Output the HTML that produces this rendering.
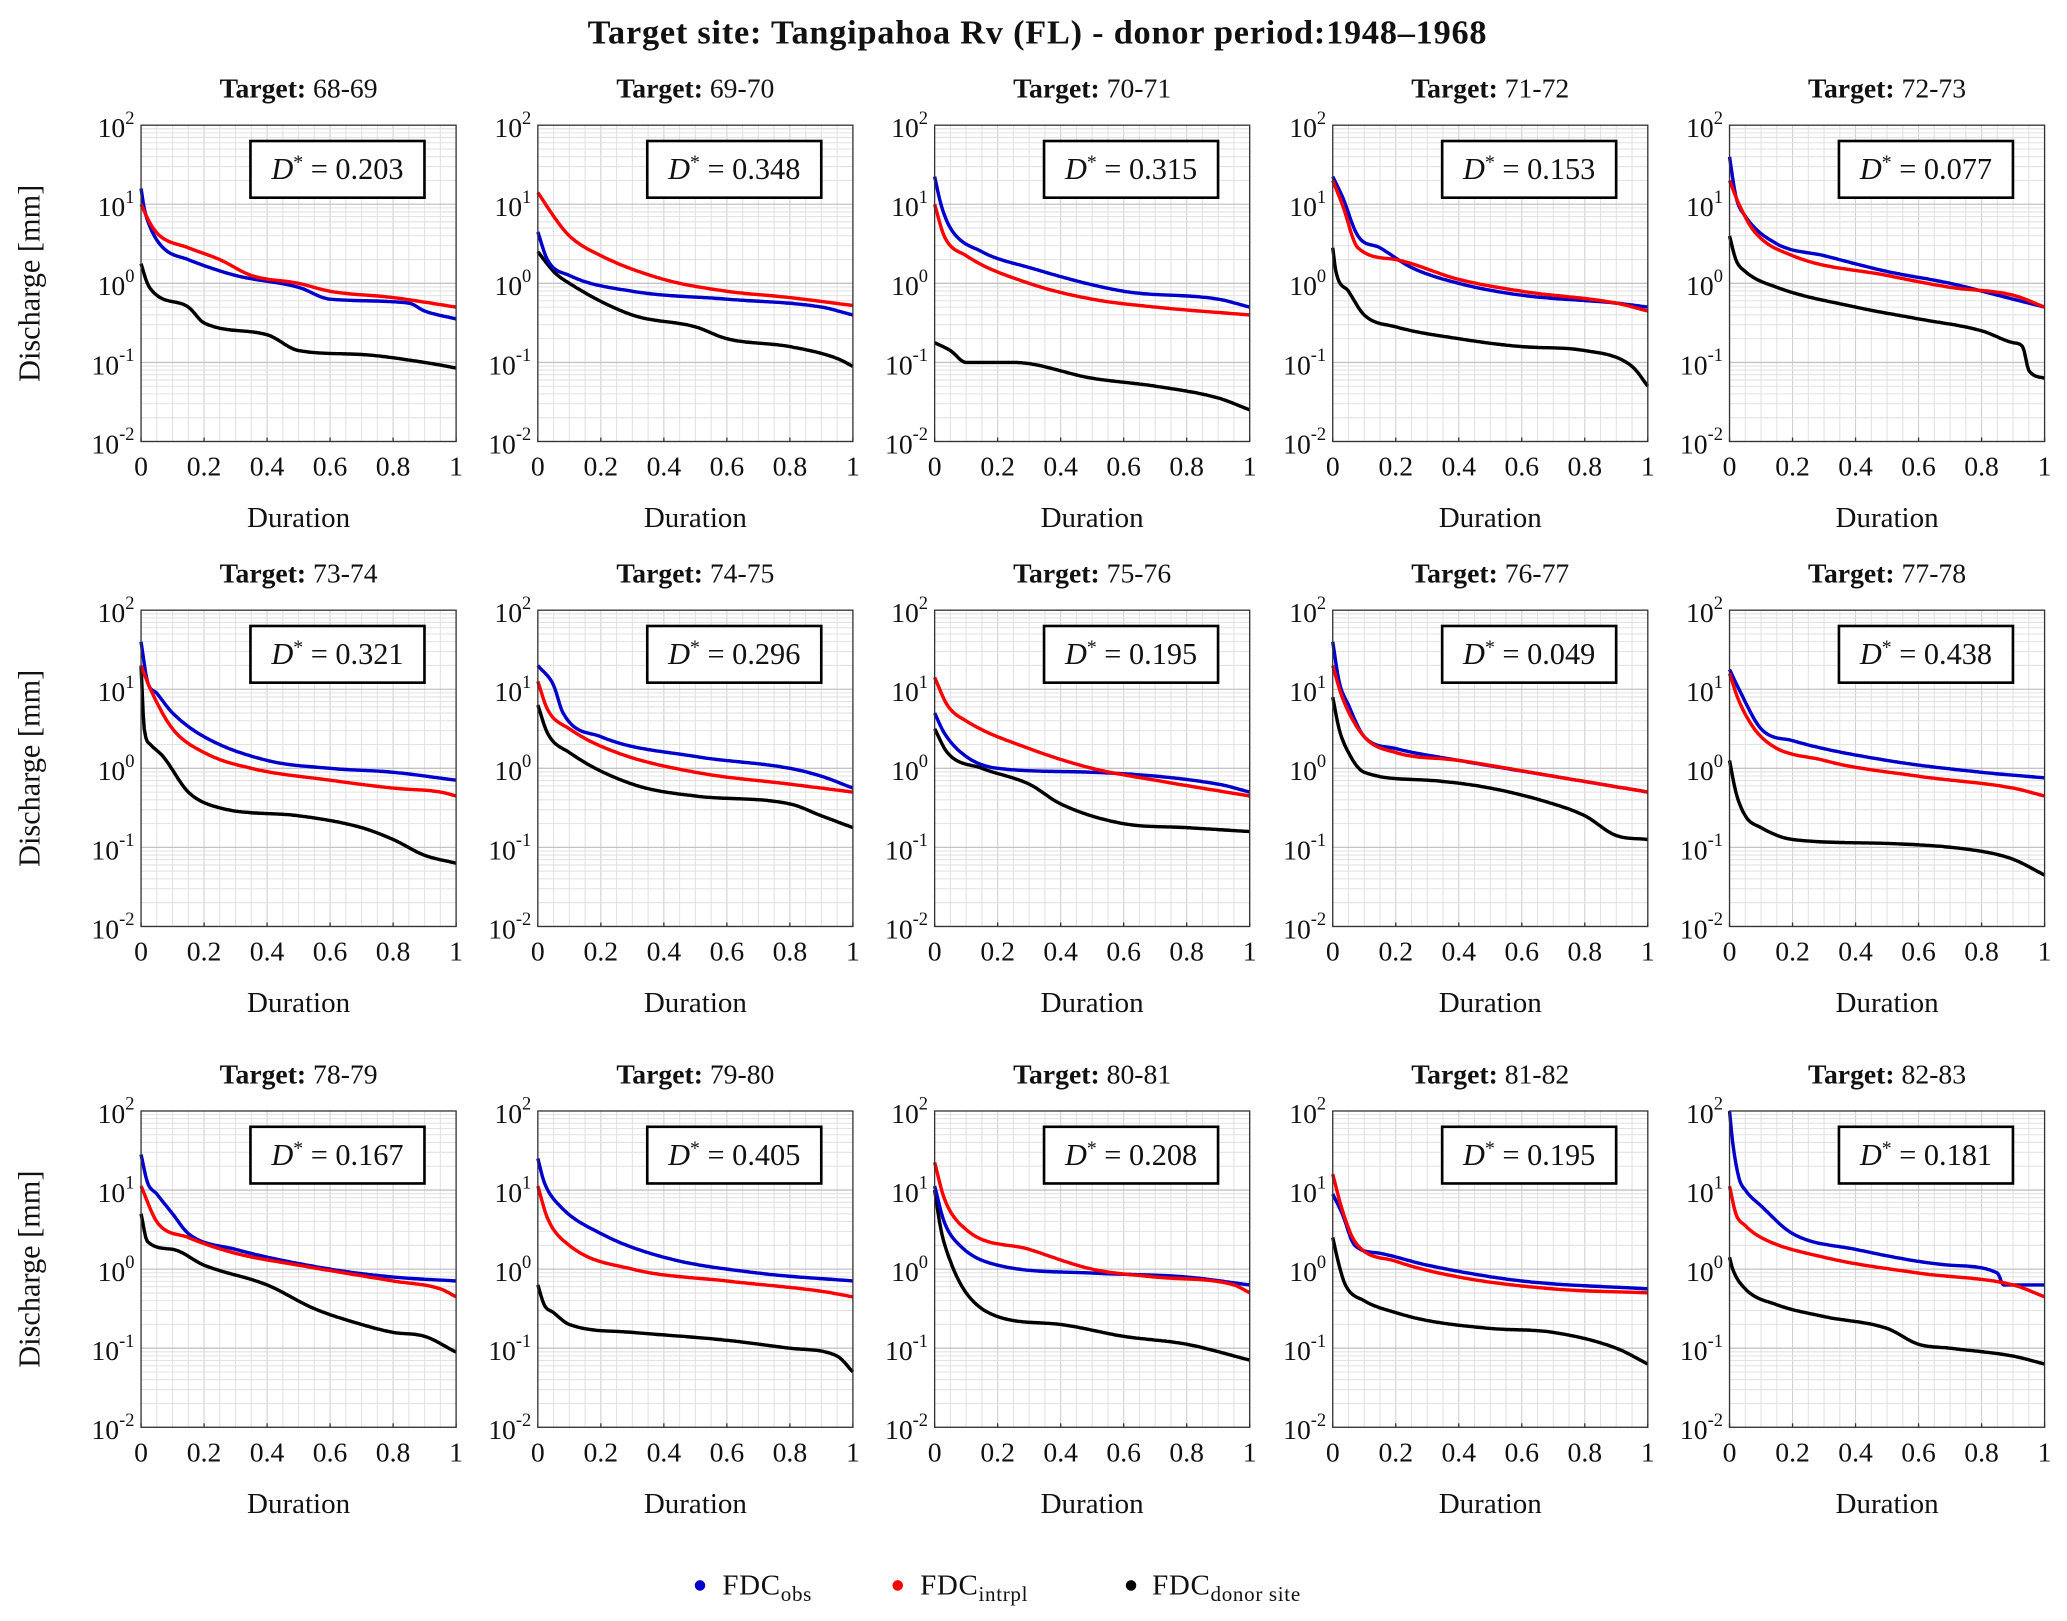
<!DOCTYPE html>
<html><head><meta charset="utf-8"><style>
html,body{margin:0;padding:0;background:#fff}
svg{display:block}
text{font-family:"Liberation Serif","DejaVu Serif",serif;fill:#111}
</style></head><body>
<svg id="s" xmlns="http://www.w3.org/2000/svg" width="2067" height="1621" viewBox="0 0 1568 1230" preserveAspectRatio="none">
<rect width="1568" height="1230" fill="#fff"/>
<text x="787" y="33" text-anchor="middle" font-size="26" font-weight="bold" letter-spacing="0.6">Target site:  Tangipahoa Rv (FL) - donor period:1948–1968</text>
<g font-size="22" letter-spacing="0.5">
<circle cx="531" cy="1203" r="4" fill="#0000cc"/><text x="548" y="1210">FDC<tspan font-size="16" dy="5">obs</tspan></text>
<circle cx="681" cy="1203" r="4" fill="#ff0000"/><text x="698" y="1210">FDC<tspan font-size="16" dy="5">intrpl</tspan></text>
<circle cx="858" cy="1203" r="4" fill="#000"/><text x="874" y="1210">FDC<tspan font-size="16" dy="5">donor site</tspan></text>
</g>
</svg>
<script>
const P=[
["68-69","0.203",[[0,1.2],[0.01,0.95],[0.03,0.7],[0.07,0.45],[0.15,0.3],[0.3,0.1],[0.5,-0.05],[0.6,-0.2],[0.85,-0.25],[0.9,-0.35],[1,-0.45]],[[0,1],[0.03,0.75],[0.06,0.6],[0.15,0.45],[0.25,0.3],[0.35,0.1],[0.5,0],[0.6,-0.1],[0.8,-0.18],[1,-0.3]],[[0,0.25],[0.02,0],[0.05,-0.15],[0.15,-0.3],[0.2,-0.5],[0.4,-0.65],[0.5,-0.85],[0.7,-0.9],[0.9,-1],[1,-1.07]]],
["69-70","0.348",[[0,0.65],[0.03,0.3],[0.1,0.1],[0.3,-0.1],[0.6,-0.2],[0.9,-0.3],[1,-0.4]],[[0,1.15],[0.05,0.85],[0.1,0.6],[0.2,0.35],[0.4,0.05],[0.6,-0.1],[0.8,-0.18],[1,-0.28]],[[0,0.4],[0.05,0.15],[0.1,0],[0.3,-0.4],[0.5,-0.55],[0.6,-0.7],[0.8,-0.8],[0.95,-0.95],[1,-1.05]]],
["70-71","0.315",[[0,1.35],[0.02,1],[0.05,0.7],[0.15,0.4],[0.3,0.2],[0.6,-0.1],[0.9,-0.2],[1,-0.3]],[[0,1],[0.03,0.6],[0.1,0.35],[0.3,0],[0.5,-0.2],[0.7,-0.3],[1,-0.4]],[[0,-0.75],[0.05,-0.85],[0.1,-1],[0.25,-1],[0.5,-1.2],[0.7,-1.3],[0.9,-1.45],[1,-1.6]]],
["71-72","0.153",[[0,1.35],[0.03,1.1],[0.08,0.6],[0.15,0.45],[0.25,0.2],[0.4,0],[0.6,-0.15],[0.9,-0.25],[1,-0.3]],[[0,1.3],[0.03,1],[0.08,0.45],[0.2,0.3],[0.4,0.05],[0.6,-0.1],[0.9,-0.25],[1,-0.35]],[[0,0.45],[0.01,0.15],[0.05,-0.1],[0.1,-0.4],[0.2,-0.55],[0.4,-0.7],[0.6,-0.8],[0.8,-0.85],[0.95,-1.05],[1,-1.3]]],
["72-73","0.077",[[0,1.6],[0.02,1.1],[0.05,0.85],[0.15,0.5],[0.3,0.35],[0.5,0.15],[0.7,0],[0.9,-0.2],[1,-0.3]],[[0,1.3],[0.03,1],[0.08,0.65],[0.2,0.35],[0.5,0.1],[0.7,-0.05],[0.9,-0.15],[1,-0.3]],[[0,0.6],[0.02,0.3],[0.05,0.15],[0.15,-0.05],[0.4,-0.3],[0.6,-0.45],[0.8,-0.6],[0.9,-0.75],[0.93,-0.8],[0.95,-1.1],[1,-1.2]]],
["73-74","0.321",[[0,1.6],[0.02,1.1],[0.05,0.95],[0.1,0.7],[0.2,0.4],[0.4,0.1],[0.6,0],[0.8,-0.05],[1,-0.15]],[[0,1.3],[0.03,1],[0.1,0.5],[0.2,0.2],[0.35,0],[0.6,-0.15],[0.8,-0.25],[0.95,-0.3],[1,-0.35]],[[0,1.3],[0.01,0.5],[0.03,0.3],[0.07,0.15],[0.15,-0.3],[0.25,-0.5],[0.5,-0.6],[0.7,-0.75],[0.8,-0.9],[0.9,-1.1],[1,-1.2]]],
["74-75","0.296",[[0,1.3],[0.05,1.05],[0.08,0.7],[0.2,0.4],[0.5,0.15],[0.8,0],[0.9,-0.1],[1,-0.25]],[[0,1.1],[0.03,0.75],[0.1,0.5],[0.25,0.2],[0.5,-0.05],[0.8,-0.2],[1,-0.3]],[[0,0.8],[0.03,0.45],[0.1,0.2],[0.3,-0.2],[0.5,-0.35],[0.8,-0.45],[0.9,-0.6],[1,-0.75]]],
["75-76","0.195",[[0,0.7],[0.03,0.45],[0.1,0.15],[0.2,0],[0.5,-0.05],[0.9,-0.2],[1,-0.3]],[[0,1.15],[0.04,0.8],[0.1,0.6],[0.3,0.25],[0.5,0],[0.7,-0.15],[1,-0.35]],[[0,0.5],[0.04,0.2],[0.15,0],[0.3,-0.2],[0.4,-0.45],[0.6,-0.7],[0.8,-0.75],[1,-0.8]]],
["76-77","0.049",[[0,1.6],[0.02,1.1],[0.05,0.8],[0.1,0.4],[0.2,0.25],[0.4,0.1],[0.7,-0.1],[1,-0.3]],[[0,1.3],[0.03,0.9],[0.1,0.4],[0.2,0.2],[0.4,0.1],[0.7,-0.1],[1,-0.3]],[[0,0.9],[0.02,0.5],[0.05,0.2],[0.1,-0.05],[0.3,-0.15],[0.5,-0.25],[0.7,-0.45],[0.8,-0.6],[0.9,-0.85],[1,-0.9]]],
["77-78","0.438",[[0,1.25],[0.03,1],[0.1,0.5],[0.2,0.35],[0.5,0.1],[0.8,-0.05],[1,-0.12]],[[0,1.2],[0.03,0.85],[0.1,0.4],[0.3,0.1],[0.6,-0.1],[0.9,-0.25],[1,-0.35]],[[0,0.1],[0.02,-0.3],[0.05,-0.6],[0.1,-0.75],[0.2,-0.9],[0.5,-0.95],[0.8,-1.05],[0.9,-1.15],[1,-1.35]]],
["78-79","0.167",[[0,1.45],[0.02,1.1],[0.05,0.95],[0.1,0.7],[0.15,0.45],[0.3,0.25],[0.6,0],[0.8,-0.1],[1,-0.15]],[[0,1.05],[0.05,0.6],[0.15,0.4],[0.3,0.2],[0.5,0.05],[0.8,-0.15],[0.95,-0.25],[1,-0.35]],[[0,0.7],[0.02,0.35],[0.1,0.25],[0.2,0.05],[0.4,-0.2],[0.55,-0.5],[0.7,-0.7],[0.8,-0.8],[0.9,-0.85],[1,-1.05]]],
["79-80","0.405",[[0,1.4],[0.02,1.1],[0.07,0.8],[0.2,0.45],[0.4,0.15],[0.7,-0.05],[1,-0.15]],[[0,1.05],[0.03,0.65],[0.1,0.3],[0.3,0],[0.6,-0.15],[0.9,-0.28],[1,-0.35]],[[0,-0.2],[0.02,-0.45],[0.05,-0.55],[0.1,-0.7],[0.3,-0.8],[0.6,-0.9],[0.8,-1],[0.95,-1.1],[1,-1.3]]],
["80-81","0.208",[[0,1.05],[0.03,0.6],[0.08,0.3],[0.2,0.05],[0.5,-0.05],[0.8,-0.1],[1,-0.2]],[[0,1.35],[0.03,0.9],[0.1,0.5],[0.3,0.25],[0.5,0],[0.7,-0.1],[0.95,-0.2],[1,-0.3]],[[0,1],[0.02,0.5],[0.05,0.1],[0.1,-0.3],[0.2,-0.6],[0.4,-0.7],[0.6,-0.85],[0.8,-0.95],[1,-1.15]]],
["81-82","0.195",[[0,0.95],[0.03,0.7],[0.07,0.3],[0.15,0.2],[0.3,0.05],[0.6,-0.15],[1,-0.25]],[[0,1.2],[0.03,0.75],[0.07,0.35],[0.2,0.1],[0.4,-0.1],[0.7,-0.25],[1,-0.3]],[[0,0.4],[0.02,0.05],[0.04,-0.2],[0.1,-0.4],[0.2,-0.55],[0.3,-0.65],[0.5,-0.75],[0.7,-0.8],[0.9,-1],[1,-1.2]]],
["82-83","0.181",[[0,2],[0.01,1.6],[0.03,1.15],[0.05,1],[0.1,0.8],[0.2,0.45],[0.4,0.25],[0.7,0.05],[0.85,-0.05],[0.87,-0.2],[1,-0.2]],[[0,1.05],[0.02,0.7],[0.05,0.55],[0.1,0.4],[0.3,0.15],[0.6,-0.05],[0.9,-0.2],[1,-0.35]],[[0,0.15],[0.01,0],[0.05,-0.25],[0.15,-0.45],[0.3,-0.6],[0.5,-0.75],[0.6,-0.95],[0.7,-1],[0.9,-1.1],[1,-1.2]]]
];
function mono(pts){
 const n=pts.length,xs=pts.map(p=>p[0]),ys=pts.map(p=>p[1]);
 const d=[],m=[];
 for(let i=0;i<n-1;i++)d.push((ys[i+1]-ys[i])/(xs[i+1]-xs[i]));
 m[0]=d[0];m[n-1]=d[n-2];
 for(let i=1;i<n-1;i++)m[i]=(d[i-1]*d[i]<=0)?0:(d[i-1]+d[i])/2;
 for(let i=0;i<n-1;i++){if(d[i]==0){m[i]=m[i+1]=0;continue;}const a=m[i]/d[i],b=m[i+1]/d[i],s=a*a+b*b;if(s>9){const t=3/Math.sqrt(s);m[i]=t*a*d[i];m[i+1]=t*b*d[i];}}
 const out=[];
 for(let i=0;i<n-1;i++){const h=xs[i+1]-xs[i];const N=Math.max(3,Math.ceil(h*200));
  for(let k=0;k<N;k++){const t=k/N,t2=t*t,t3=t2*t;
   const y=(2*t3-3*t2+1)*ys[i]+(t3-2*t2+t)*h*m[i]+(-2*t3+3*t2)*ys[i+1]+(t3-t2)*h*m[i+1];
   out.push([xs[i]+t*h,y]);}}
 out.push([xs[n-1],ys[n-1]]);return out;
}
const L=[107,408,709,1011,1312],T=[95,463,843],W=239,H=240;
let h='';
P.forEach((p,i)=>{
 const x0=L[i%5],y0=T[Math.floor(i/5)];
 const X=v=>x0+v*W,Y=v=>y0+(2-v)*H/4;
 for(let k=1;k<20;k++){h+=`<line x1="${X(k/20)}" x2="${X(k/20)}" y1="${y0}" y2="${y0+H}" stroke="${k%4==0?'#cfcfcf':'#e2e2e2'}" stroke-width="0.8"/>`;}
 for(let d=-2;d<2;d++)for(let m=1;m<10;m++){const yy=Y(d+Math.log10(m));h+=`<line x1="${x0}" x2="${x0+W}" y1="${yy}" y2="${yy}" stroke="${m==1?'#c4c4c4':'#e2e2e2'}" stroke-width="${m==1?1:0.8}"/>`;}
 [[4,'#000'],[2,'#0000cc'],[3,'#ff0000']].forEach(([j,col])=>{
   h+=`<polyline fill="none" stroke="${col}" stroke-width="2.6" stroke-linejoin="round" points="${mono(p[j]).map(q=>X(q[0]).toFixed(1)+','+Y(q[1]).toFixed(1)).join(' ')}"/>`;
 });
 h+=`<rect x="${x0}" y="${y0}" width="${W}" height="${H}" fill="none" stroke="#333" stroke-width="1"/>`;
 for(let k=0;k<=5;k++){h+=`<line x1="${X(k/5)}" x2="${X(k/5)}" y1="${y0+H}" y2="${y0+H-3}" stroke="#333"/>`;
   h+=`<text x="${X(k/5)}" y="${y0+H+26}" text-anchor="middle" font-size="21">${k==0?'0':k==5?'1':(k/5).toFixed(1)}</text>`;}
 for(let d=-2;d<=2;d++){h+=`<text x="${x0-5}" y="${Y(d)+9}" text-anchor="end" font-size="21">10<tspan font-size="14" dy="-10">${d}</tspan></text>`;}
 h+=`<text x="${x0+W/2}" y="${y0+H+65}" text-anchor="middle" font-size="22">Duration</text>`;
 h+=`<text x="${x0+W/2}" y="${y0-21}" text-anchor="middle" font-size="21"><tspan font-weight="bold">Target:</tspan> ${p[0]}</text>`;
 h+=`<rect x="${x0+83}" y="${y0+12}" width="132" height="43" fill="#fff" stroke="#000" stroke-width="2"/>`;
 h+=`<text x="${x0+149}" y="${y0+41}" text-anchor="middle" font-size="23"><tspan font-style="italic">D</tspan><tspan font-size="15" dy="-8">*</tspan><tspan dy="8"> = ${p[1]}</tspan></text>`;
 if(i%5==0)h+=`<text transform="translate(30,${y0+H/2}) rotate(-90)" text-anchor="middle" font-size="23">Discharge [mm]</text>`;
});
document.getElementById('s').insertAdjacentHTML('beforeend',h);
</script>
</body></html>
